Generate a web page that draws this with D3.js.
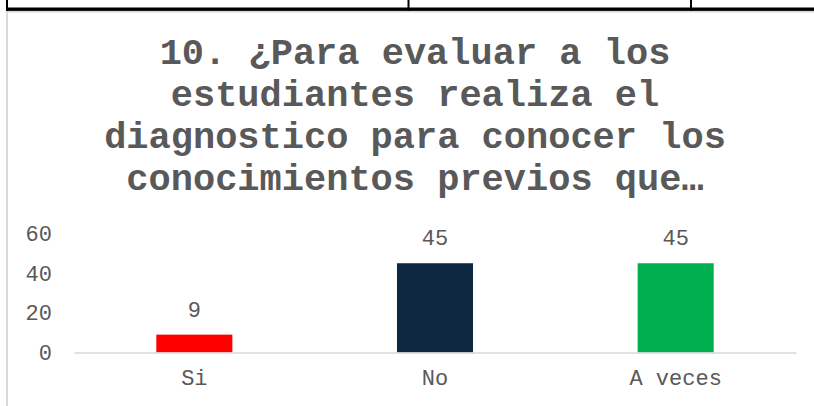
<!DOCTYPE html>
<html><head><meta charset="utf-8">
<script src="https://cdn.jsdelivr.net/npm/d3@7"></script>
<style>body{margin:0;background:#fff}svg{display:block}</style>
</head><body>
<script>
const categories = ["Si", "No", "A veces"];
const values = [9, 45, 45];
const barColors = ["#FF0000", "#0F2841", "#00B050"];
const yTicks = [0, 20, 40, 60];
const titleLines = ["10. ¿Para evaluar a los", "estudiantes realiza el", "diagnostico para conocer los", "conocimientos previos que…"];

const W = 814, H = 406;
const font = "'Liberation Mono', 'Courier New', monospace";
const svg = d3.select("body").append("svg").attr("width", W).attr("height", H);

// table borders above the chart
svg.append("rect").attr("x", 6).attr("y", 7.5).attr("width", W - 6).attr("height", 3.4).attr("fill", "#000");
[7, 408.5, 691].forEach(x => svg.append("rect").attr("x", x - 1).attr("y", 0).attr("width", 2).attr("height", 11).attr("fill", "#000"));
// chart frame
svg.append("line").attr("x1", 7).attr("x2", W).attr("y1", 11.8).attr("y2", 11.8).attr("stroke", "#d9d9d9").attr("stroke-width", 1.5);
svg.append("line").attr("x1", 7).attr("x2", 7).attr("y1", 11).attr("y2", H).attr("stroke", "#d9d9d9").attr("stroke-width", 2);

// title
const title = svg.append("text").attr("text-anchor", "middle").attr("font-family", font)
  .attr("font-weight", "bold").attr("font-size", 37).attr("fill", "#595959");
titleLines.forEach((t, i) => title.append("tspan").attr("x", 415).attr("y", 63.5 + i * 42).text(t));

const x = d3.scaleBand().domain(categories).range([74, 796]).paddingInner(0.684).paddingOuter(0.342);
const y = d3.scaleLinear().domain([0, 60]).range([352.5, 233.5]);

// y axis labels
const yAxis = svg.append("g").attr("transform", "translate(62,0)")
  .call(d3.axisLeft(y).tickValues(yTicks).tickSize(0).tickPadding(10));
yAxis.select(".domain").remove();
yAxis.selectAll("text").attr("font-family", font).attr("font-size", 22).attr("fill", "#595959");

// bars
svg.selectAll("rect.bar").data(values).enter().append("rect").attr("class", "bar")
  .attr("x", (d, i) => x(categories[i])).attr("width", x.bandwidth())
  .attr("y", d => y(d)).attr("height", d => y(0) - y(d))
  .attr("fill", (d, i) => barColors[i]);

// x axis
const xAxis = svg.append("g").attr("transform", `translate(0,${y(0)})`)
  .call(d3.axisBottom(x).tickSize(0).tickPadding(17));
xAxis.select(".domain").attr("stroke", "#d9d9d9").attr("stroke-width", 1.5);
xAxis.selectAll("text").attr("font-family", font).attr("font-size", 22).attr("fill", "#595959");

// data labels
svg.selectAll("text.lbl").data(values).enter().append("text").attr("class", "lbl")
  .attr("x", (d, i) => x(categories[i]) + x.bandwidth() / 2).attr("y", d => y(d) - 18)
  .attr("text-anchor", "middle").attr("font-family", font).attr("font-size", 22).attr("fill", "#595959")
  .text(d => d);
</script>
</body></html>
